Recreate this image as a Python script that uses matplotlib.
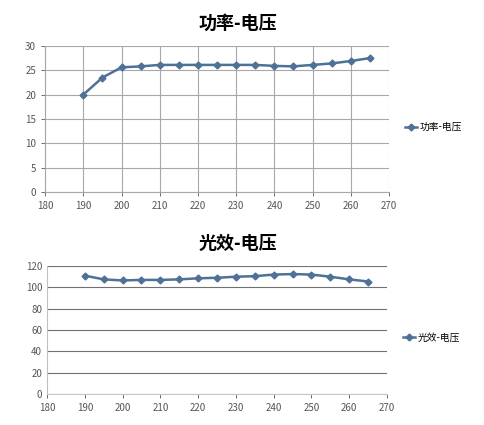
import matplotlib.pyplot as plt

plt.rcParams['font.family'] = ['Noto Sans CJK SC', 'DejaVu Sans']

voltage = [190, 195, 200, 205, 210, 215, 220, 225, 230, 235, 240, 245, 250, 255, 260, 265]
power = [20.0, 23.5, 25.6, 25.8, 26.1, 26.1, 26.1, 26.1, 26.1, 26.1, 25.9, 25.8, 26.1, 26.4, 26.9, 27.5]
efficacy = [111, 107.5, 106.5, 107, 107, 107.5, 108.5, 109, 110, 110.5, 112, 112.5, 112, 110, 107.5, 105.5]

line_color = '#4f7198'
tick_color = '#555555'

fig = plt.figure(figsize=(4.85, 4.25), dpi=100)

# Top chart: power vs voltage
ax1 = fig.add_axes([0.093, 0.548, 0.709, 0.344])
ax1.plot(voltage, power, color=line_color, lw=1.8, marker='D', ms=3.5, label='功率-电压')
ax1.set_xlim(180, 270)
ax1.set_ylim(0, 30)
ax1.set_xticks(range(180, 271, 10))
ax1.set_yticks(range(0, 31, 5))
ax1.grid(True, color='#a8a8a8', lw=0.8)
ax1.set_axisbelow(True)
for s in ['top', 'right']:
    ax1.spines[s].set_visible(False)
ax1.spines['left'].set_color('#a8a8a8')
ax1.spines['bottom'].set_color('#a8a8a8')
ax1.tick_params(labelsize=7, colors=tick_color, length=3, width=0.6)
ax1.legend(loc='center left', bbox_to_anchor=(1.02, 0.445), frameon=False,
           fontsize=7, handlelength=1.3, handletextpad=0.2)
fig.text(0.49, 0.946, '功率-电压', ha='center', va='center', fontsize=13, fontweight='bold')

# Bottom chart: efficacy vs voltage
ax2 = fig.add_axes([0.097, 0.073, 0.701, 0.301])
ax2.plot(voltage, efficacy, color=line_color, lw=1.8, marker='D', ms=3.5, label='光效-电压')
ax2.set_xlim(180, 270)
ax2.set_ylim(0, 120)
ax2.set_xticks(range(180, 271, 10))
ax2.set_yticks(range(0, 121, 20))
ax2.grid(True, axis='y', color='#707070', lw=0.8)
ax2.set_axisbelow(True)
for s in ['top', 'right']:
    ax2.spines[s].set_visible(False)
ax2.spines['left'].set_color('#c0c0c0')
ax2.spines['bottom'].set_color('#c8c8c8')
ax2.tick_params(labelsize=7, colors=tick_color, length=3, width=0.6)
ax2.tick_params(axis='y', length=0)
ax2.legend(loc='center left', bbox_to_anchor=(1.02, 0.44), frameon=False,
           fontsize=7, handlelength=1.3, handletextpad=0.2)
fig.text(0.49, 0.428, '光效-电压', ha='center', va='center', fontsize=13, fontweight='bold')

fig.savefig('out.png', dpi=100)
